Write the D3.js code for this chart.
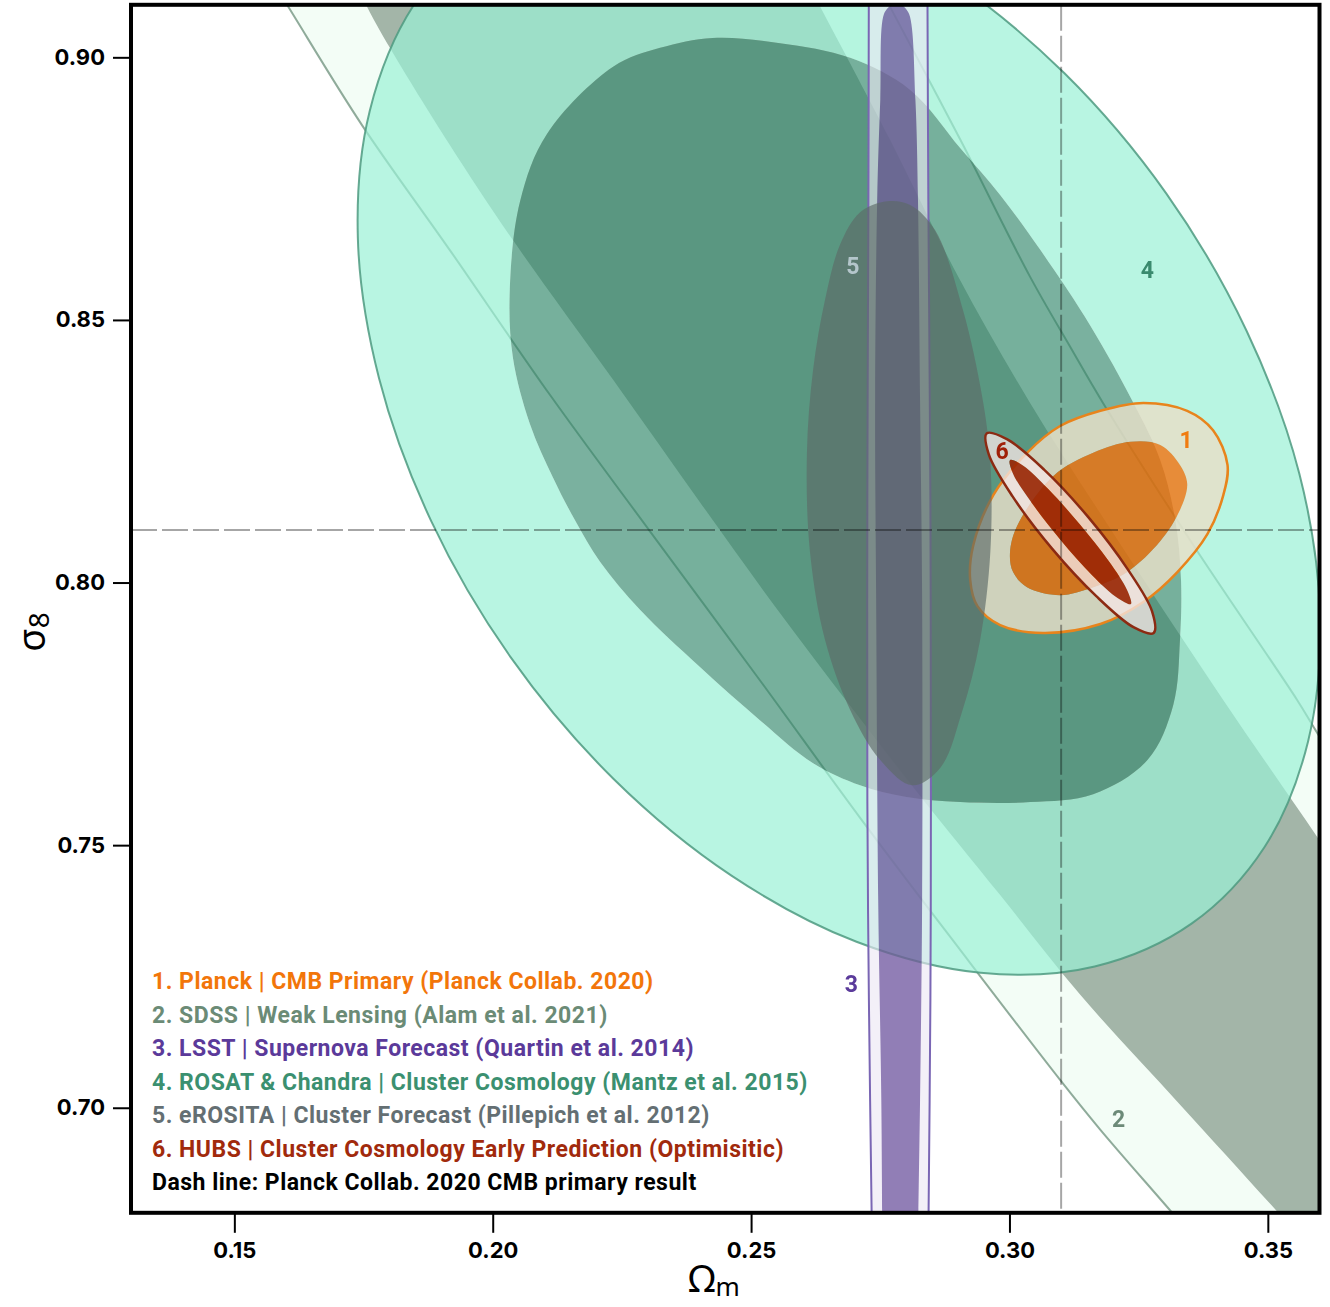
<!DOCTYPE html>
<html lang="en">
<head>
<meta charset="UTF-8" />
<title>Omega_m - sigma_8 constraints</title>
<script src="https://cdn.jsdelivr.net/npm/d3@7"></script>
<style>
  html, body { margin: 0; padding: 0; background: #fff; }
  svg { display: block; }
</style>
</head>
<body>
<svg id="chart"></svg>
<script>
// ---- values, as [Omega_m, sigma_8] ----
const omegaTicks = [0.15, 0.20, 0.25, 0.30, 0.35];
const sigmaTicks = [0.70, 0.75, 0.80, 0.85, 0.90];
const planckBest = [0.31, 0.81]; // dash lines

// 2. SDSS weak lensing band edges (2 sigma and 1 sigma)
const sdss2Lower = [[0.1530,0.9214],[0.1602,0.9100],[0.1747,0.8871],[0.1917,0.8633],[0.2111,0.8357],[0.2304,0.8098],[0.2517,0.7814],[0.2711,0.7552],[0.2905,0.7300],[0.3098,0.7053],[0.3176,0.6958],[0.3315,0.6800],[0.3447,0.6649],[0.3756,0.6299]];
const sdss2Upper = [[0.2701,0.9223],[0.2769,0.9096],[0.2905,0.8843],[0.3040,0.8582],[0.3118,0.8448],[0.3181,0.8342],[0.3356,0.8071],[0.3557,0.7776],[0.3598,0.7710],[0.3756,0.7472],[0.3950,0.7177]];
const sdss1Lower = [[0.1724,0.9166],[0.1757,0.9096],[0.1801,0.9018],[0.1917,0.8833],[0.2039,0.8652],[0.2233,0.8386],[0.2401,0.8153],[0.2546,0.7955],[0.2692,0.7765],[0.2823,0.7599],[0.2982,0.7405],[0.3137,0.7215],[0.3331,0.7005],[0.3524,0.6796],[0.3756,0.6539],[0.4047,0.6215]];
const sdss1Upper = [[0.2576,0.9204],[0.2634,0.9096],[0.2769,0.8843],[0.2901,0.8582],[0.3040,0.8342],[0.3216,0.8071],[0.3414,0.7776],[0.3596,0.7515],[0.3756,0.7281],[0.4144,0.6710]];

// 4. ROSAT & Chandra
const rosat2 = [[0.3353,0.7351],[0.3494,0.7497],[0.3578,0.7698],[0.3601,0.7940],[0.3561,0.8207],[0.3459,0.8479],[0.3304,0.8740],[0.3106,0.8970],[0.2878,0.9154],[0.2636,0.9280],[0.2396,0.9339],[0.2175,0.9327],[0.1988,0.9245],[0.1847,0.9099],[0.1762,0.8898],[0.1739,0.8656],[0.1780,0.8389],[0.1881,0.8117],[0.2036,0.7856],[0.2234,0.7626],[0.2462,0.7442],[0.2704,0.7316],[0.2944,0.7257],[0.3165,0.7269]];
const rosat1 = [[0.2426,0.9037],[0.2556,0.9027],[0.2692,0.8999],[0.2808,0.8938],[0.2905,0.8827],[0.2982,0.8738],[0.3060,0.8633],[0.3156,0.8490],[0.3240,0.8342],[0.3292,0.8233],[0.3321,0.8119],[0.3332,0.8005],[0.3330,0.7891],[0.3317,0.7767],[0.3267,0.7662],[0.3162,0.7597],[0.3040,0.7582],[0.2905,0.7582],[0.2798,0.7592],[0.2711,0.7614],[0.2620,0.7656],[0.2517,0.7738],[0.2401,0.7839],[0.2285,0.7948],[0.2208,0.8039],[0.2159,0.8119],[0.2117,0.8199],[0.2072,0.8302],[0.2039,0.8429],[0.2033,0.8557],[0.2053,0.8726],[0.2105,0.8854],[0.2233,0.8982],[0.2324,0.9018]];

// 3. LSST supernova strip edges
const lsst2Left  = [[0.2728,0.9200],[0.2727,0.8728],[0.2725,0.8157],[0.2725,0.7586],[0.2728,0.7205],[0.2734,0.6748]];
const lsst2Right = [[0.2841,0.9200],[0.2843,0.8728],[0.2847,0.8157],[0.2848,0.7586],[0.2847,0.7205],[0.2843,0.6748]];
const lsst1Left  = [[0.2769,0.9098],[0.2757,0.9082],[0.2750,0.8919],[0.2744,0.8728],[0.2740,0.8347],[0.2742,0.7967],[0.2746,0.7395],[0.2752,0.7015],[0.2754,0.6748]];
const lsst1Right = [[0.2794,0.9098],[0.2806,0.9082],[0.2818,0.8919],[0.2823,0.8728],[0.2827,0.8347],[0.2831,0.7967],[0.2831,0.7395],[0.2827,0.7015],[0.2823,0.6748]];

// 1. Planck CMB
const planck2 = [[0.2924,0.8005],[0.2930,0.8071],[0.2969,0.8167],[0.3034,0.8247],[0.3098,0.8298],[0.3176,0.8327],[0.3259,0.8342],[0.3344,0.8327],[0.3394,0.8290],[0.3422,0.8224],[0.3414,0.8167],[0.3383,0.8092],[0.3325,0.8020],[0.3259,0.7963],[0.3176,0.7921],[0.3065,0.7904],[0.2982,0.7919],[0.2938,0.7955]];
const planck1 = [[0.3001,0.8056],[0.3015,0.8108],[0.3085,0.8203],[0.3162,0.8247],[0.3234,0.8268],[0.3292,0.8262],[0.3330,0.8224],[0.3344,0.8188],[0.3330,0.8138],[0.3292,0.8079],[0.3228,0.8020],[0.3162,0.7991],[0.3098,0.7976],[0.3034,0.7991],[0.3007,0.8020]];

// 5. eROSITA
const erosita = [[0.2763,0.8726],[0.2711,0.8705],[0.2672,0.8643],[0.2643,0.8538],[0.2620,0.8405],[0.2608,0.8245],[0.2614,0.8058],[0.2643,0.7891],[0.2692,0.7757],[0.2750,0.7662],[0.2812,0.7614],[0.2866,0.7647],[0.2908,0.7753],[0.2943,0.7889],[0.2963,0.8058],[0.2963,0.8229],[0.2947,0.8355],[0.2910,0.8519],[0.2856,0.8671],[0.2808,0.8719]];

// 6. HUBS
const hubs2 = [[0.3279,0.7904],[0.3276,0.7945],[0.3229,0.8025],[0.3153,0.8124],[0.3067,0.8215],[0.2995,0.8273],[0.2956,0.8284],[0.2960,0.8244],[0.3006,0.8164],[0.3082,0.8065],[0.3168,0.7974],[0.3240,0.7915]];
const hubs1 = [[0.3235,0.7959],[0.3228,0.7985],[0.3192,0.8041],[0.3136,0.8111],[0.3075,0.8178],[0.3026,0.8223],[0.3001,0.8233],[0.3007,0.8207],[0.3043,0.8152],[0.3099,0.8081],[0.3160,0.8014],[0.3210,0.7970]];

// number tags on the contours
const tagText   = ["1", "2", "3", "4", "5", "6"];
const tagPos    = [[0.3342,0.8271],[0.3211,0.6977],[0.2694,0.7234],[0.3267,0.8595],[0.2697,0.8601],[0.2986,0.8250]];
const tagColors = ["#f07c10", "#6c8a78", "#5b3b9b", "#3a8a6e", "#b4c6cb", "#a02008"];

const legendText = [
  "1. Planck | CMB Primary (Planck Collab. 2020)",
  "2. SDSS | Weak Lensing (Alam et al. 2021)",
  "3. LSST | Supernova Forecast (Quartin et al. 2014)",
  "4. ROSAT & Chandra | Cluster Cosmology (Mantz et al. 2015)",
  "5. eROSITA | Cluster Forecast (Pillepich et al. 2012)",
  "6. HUBS | Cluster Cosmology Early Prediction (Optimisitic)",
  "Dash line: Planck Collab. 2020 CMB primary result"
];
const legendColors = ["#f2760a", "#6b8b76", "#5b3a9a", "#3b9070", "#646f73", "#a12a0c", "#000000"];

// ---- drawing ----
const width = 1330, height = 1307;
const svg = d3.select("#chart").attr("width", width).attr("height", height);

const x = d3.scaleLinear().domain([0.13, 0.36]).range([131, 1319.5]);
const y = d3.scaleLinear().domain([0.68, 0.91]).range([1212.8, 4.8]);

const openLine = d3.line().x(d => x(d[0])).y(d => y(d[1])).curve(d3.curveCatmullRom.alpha(0.5));
const closedLine = d3.line().x(d => x(d[0])).y(d => y(d[1])).curve(d3.curveCatmullRomClosed.alpha(0.5));

// band between two edges
function band(a, b) {
  return openLine(a) + openLine(b.slice().reverse()).replace(/^M/, "L") + "Z";
}

svg.append("defs").append("clipPath").attr("id", "plot-clip")
  .append("rect")
  .attr("x", x(0.13)).attr("y", y(0.91))
  .attr("width", x(0.36) - x(0.13)).attr("height", y(0.68) - y(0.91));

const plot = svg.append("g").attr("clip-path", "url(#plot-clip)");

// SDSS
plot.append("path").attr("d", band(sdss2Lower, sdss2Upper) + band(sdss1Lower, sdss1Upper))
  .attr("fill", "#f3fdf6").attr("fill-rule", "evenodd");
plot.append("path").attr("d", band(sdss1Lower, sdss1Upper)).attr("fill", "#a3b5a8");
[sdss2Lower, sdss2Upper].forEach(edge => {
  plot.append("path").attr("d", openLine(edge))
    .attr("fill", "none").attr("stroke", "#7d9c8a").attr("stroke-opacity", 0.85).attr("stroke-width", 2);
});

// ROSAT & Chandra
plot.append("path").attr("d", closedLine(rosat2) + closedLine(rosat1))
  .attr("fill", "#9af1d6").attr("fill-opacity", 0.7).attr("fill-rule", "evenodd");
plot.append("path").attr("d", closedLine(rosat1))
  .attr("fill", "#33876c").attr("fill-opacity", 0.65);
plot.append("path").attr("d", closedLine(rosat2))
  .attr("fill", "none").attr("stroke", "#4e9a80").attr("stroke-opacity", 0.85).attr("stroke-width", 2);

// LSST
plot.append("path").attr("d", band(lsst2Left, lsst2Right))
  .attr("fill", "#ece6f4").attr("fill-opacity", 0.62);
[lsst2Left, lsst2Right].forEach(edge => {
  plot.append("path").attr("d", openLine(edge))
    .attr("fill", "none").attr("stroke", "#7a66b4").attr("stroke-width", 2);
});
plot.append("path").attr("d", band(lsst1Left, lsst1Right))
  .attr("fill", "#9886bb").style("mix-blend-mode", "multiply");

// Planck
plot.append("path").attr("d", closedLine(planck2) + closedLine(planck1))
  .attr("fill", "#e7dfc8").attr("fill-opacity", 0.83).attr("fill-rule", "evenodd");
plot.append("path").attr("d", closedLine(planck1))
  .attr("fill", "#f76a00").attr("fill-opacity", 0.75);
plot.append("path").attr("d", closedLine(planck2))
  .attr("fill", "none").attr("stroke", "#e8841c").attr("stroke-width", 2.5);

// eROSITA
plot.append("path").attr("d", closedLine(erosita))
  .attr("fill", "#5c6a67").attr("fill-opacity", 0.65);

// HUBS
plot.append("path").attr("d", closedLine(hubs2) + closedLine(hubs1))
  .attr("fill", "#f4e6e4").attr("fill-opacity", 0.78).attr("fill-rule", "evenodd");
plot.append("path").attr("d", closedLine(hubs1))
  .attr("fill", "#9a2604").attr("fill-opacity", 0.9);
plot.append("path").attr("d", closedLine(hubs2))
  .attr("fill", "none").attr("stroke", "#8c2a12").attr("stroke-width", 2.5);

// Planck best-fit dash lines
plot.append("line")
  .attr("x1", x(0.13)).attr("x2", x(0.36)).attr("y1", y(planckBest[1])).attr("y2", y(planckBest[1]))
  .attr("stroke", "#000").attr("stroke-opacity", 0.35).attr("stroke-width", 2).attr("stroke-dasharray", "26 5");
plot.append("line")
  .attr("x1", x(planckBest[0])).attr("x2", x(planckBest[0])).attr("y1", y(0.91)).attr("y2", y(0.68))
  .attr("stroke", "#000").attr("stroke-opacity", 0.35).attr("stroke-width", 2).attr("stroke-dasharray", "26 5");

// contour tags
plot.selectAll(".tag").data(tagText).enter().append("text")
  .attr("class", "tag")
  .attr("x", (d, i) => x(tagPos[i][0]))
  .attr("y", (d, i) => y(tagPos[i][1]))
  .attr("text-anchor", "middle").attr("dominant-baseline", "central")
  .attr("font-family", "Roboto, 'Noto Sans', sans-serif").attr("font-weight", 700).attr("font-size", 23)
  .attr("fill", (d, i) => tagColors[i])
  .text(d => d);

// legend
svg.append("g").selectAll("text").data(legendText).enter().append("text")
  .attr("x", 152)
  .attr("y", (d, i) => 989 + i * 33.5)
  .attr("font-family", "Roboto, 'Noto Sans', sans-serif").attr("font-weight", 700).attr("font-size", 23)
  .attr("letter-spacing", 0.5)
  .attr("fill", (d, i) => legendColors[i])
  .text(d => d);

// axes
const yAxis = svg.append("g").attr("transform", `translate(${x(0.13)},0)`)
  .call(d3.axisLeft(y).tickValues(sigmaTicks).tickFormat(d3.format(".2f")).tickSize(18).tickPadding(8));
const xAxis = svg.append("g").attr("transform", `translate(0,${y(0.68)})`)
  .call(d3.axisBottom(x).tickValues(omegaTicks).tickFormat(d3.format(".2f")).tickSize(20).tickPadding(10));
[xAxis, yAxis].forEach(ax => {
  ax.select(".domain").remove();
  ax.selectAll(".tick line").attr("stroke", "#000").attr("stroke-width", 2);
  ax.selectAll(".tick text")
    .attr("font-family", "Inter, Roboto, sans-serif").attr("font-weight", 700).attr("font-size", 22).attr("fill", "#000");
});

// frame
svg.append("rect")
  .attr("x", x(0.13)).attr("y", y(0.91))
  .attr("width", x(0.36) - x(0.13)).attr("height", y(0.68) - y(0.91))
  .attr("fill", "none").attr("stroke", "#000").attr("stroke-width", 4);

// axis titles
const yTitle = svg.append("text")
  .attr("transform", "translate(45,632) rotate(-90)")
  .attr("text-anchor", "middle")
  .attr("font-family", "'Noto Sans', 'DejaVu Sans', sans-serif").attr("font-size", 38).attr("fill", "#000");
yTitle.append("tspan").text("σ");
yTitle.append("tspan").attr("font-size", 28).attr("dy", 4).text("8");

const xTitle = svg.append("text")
  .attr("x", 714).attr("y", 1292)
  .attr("text-anchor", "middle")
  .attr("font-family", "'Noto Sans', 'DejaVu Sans', sans-serif").attr("font-size", 38).attr("fill", "#000");
xTitle.append("tspan").text("Ω");
xTitle.append("tspan").attr("font-size", 26).attr("dy", 4).text("m");
</script>
</body>
</html>
